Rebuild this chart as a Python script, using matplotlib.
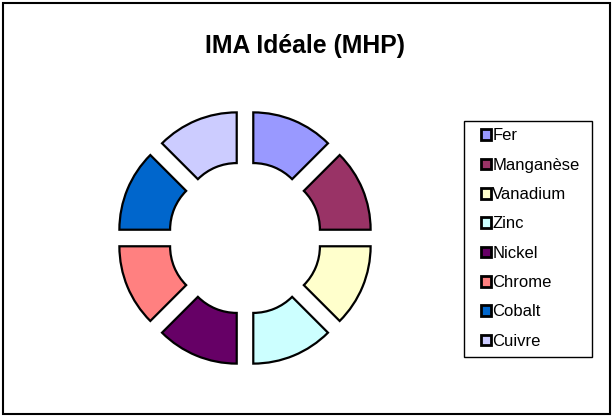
import matplotlib
matplotlib.use("Agg")
import matplotlib.pyplot as plt
from matplotlib.patches import Rectangle

plt.rcParams['font.family'] = ['Liberation Sans', 'DejaVu Sans']

# donnees
metaux = ['Fer', 'Manganèse', 'Vanadium', 'Zinc', 'Nickel', 'Chrome', 'Cobalt', 'Cuivre']
valeurs = [1, 1, 1, 1, 1, 1, 1, 1]
couleurs = ['#9999FF', '#993366', '#FFFFCC', '#CCFFFF', '#660066', '#FF8080', '#0066CC', '#CCCCFF']
titre = 'IMA Idéale (MHP)'

W, H = 612, 416
fig = plt.figure(figsize=(W / 100, H / 100), dpi=100)

# cadre exterieur
fig.patches.append(Rectangle((2.5 / W, 2.5 / H), (W - 5) / W, (H - 5) / H,
                             transform=fig.transFigure, fill=False,
                             edgecolor='black', linewidth=1.5))

# axe du donut: centre (245, 238) px, 105.6 px par unite
cx, cy, s, lim = 245, 238, 105.6, 1.4
size = 2 * lim * s
ax = fig.add_axes([(cx - size / 2) / W, (H - cy - size / 2) / H, size / W, size / H])
wedges, _ = ax.pie(valeurs, colors=couleurs, startangle=90, counterclock=False,
                   explode=[0.205] * len(valeurs), radius=1.0,
                   wedgeprops=dict(width=0.48, edgecolor='black', linewidth=1.6))
ax.set_xlim(-lim, lim)
ax.set_ylim(-lim, lim)
ax.set_aspect('equal')
ax.axis('off')

fig.text(305 / W, 1 - 46 / H, titre, ha='center', va='center',
         fontsize=17.8, fontweight='bold')

# cadre de la legende
fig.patches.append(Rectangle((464 / W, 1 - 357 / H), 128 / W, 236 / H,
                             transform=fig.transFigure, fill=False,
                             edgecolor='black', linewidth=1.0))

# legende
leg = fig.legend(wedges, metaux, loc='upper left',
                 bbox_to_anchor=(481 / W, 1 - 128.5 / H),
                 frameon=False, fontsize=12,
                 handlelength=0.6, handleheight=0.6, handletextpad=0.08,
                 labelspacing=0.86, borderpad=0, borderaxespad=0)
for h in leg.legend_handles:
    h.set_linewidth(2.0)

fig.savefig('out.png', dpi=100)
